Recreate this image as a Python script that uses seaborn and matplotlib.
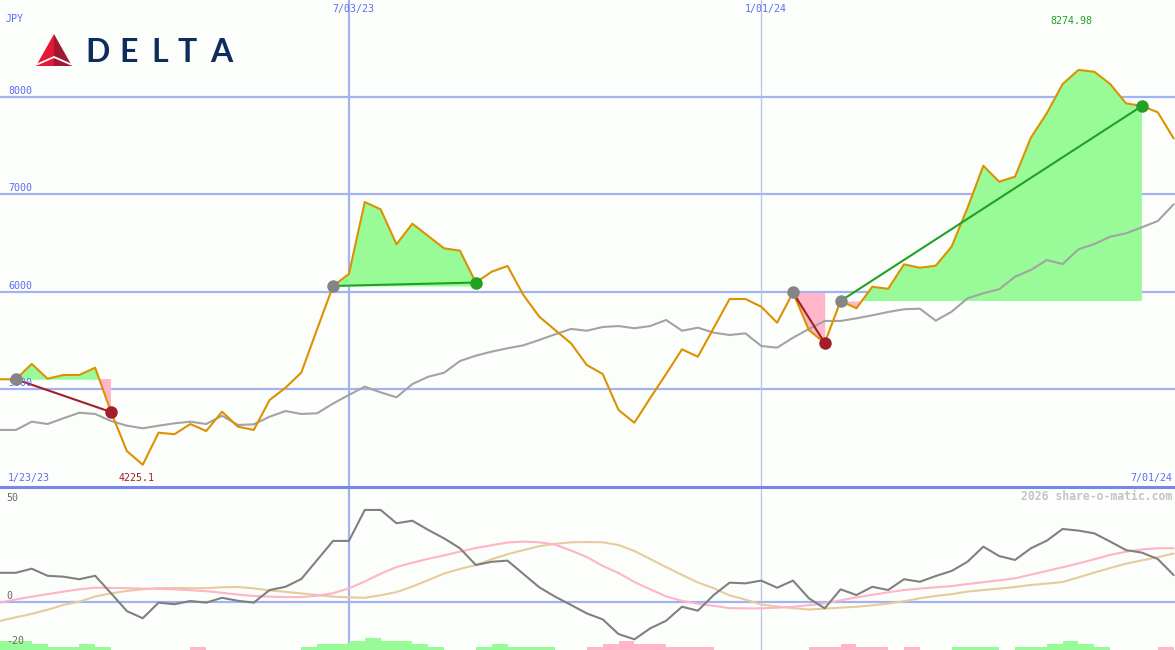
import numpy as np
import pandas as pd
import matplotlib
matplotlib.use("Agg")
import matplotlib.pyplot as plt
import matplotlib.transforms as mtrans
from matplotlib.patches import Polygon
import seaborn as sns

# ---------------- data ----------------
date_labels = ["1/23/23", "7/03/23", "1/01/24", "7/01/24"]
date_marks = [22, 48]          # weekly index of 7/03/23 and 1/01/24
price_grid = [5000, 6000, 7000, 8000]
osc_labels = [50, 0, -20]

price = [5102, 5102, 5259, 5108, 5146, 5146, 5221, 4766, 4366, 4225.1,
         4554, 4538, 4643, 4571, 4769, 4616, 4582, 4889, 5015, 5171,
         5618, 6059, 6182, 6920, 6845, 6486, 6698, 6571, 6445, 6421,
         6094, 6205, 6264, 5966, 5744, 5607, 5471, 5248, 5156, 4787,
         4656, 4910, 5156, 5409, 5333, 5628, 5925, 5925, 5846, 5682,
         5992, 5607, 5474, 5905, 5830, 6051, 6030, 6281, 6246, 6267,
         6462, 6859, 7292, 7128, 7180, 7580, 7830, 8130, 8274.98, 8256,
         8130, 7932, 7905, 7840, 7573]

avg = [4582, 4582, 4667, 4643, 4702, 4759, 4746, 4674, 4626, 4599,
       4626, 4650, 4667, 4643, 4728, 4633, 4640, 4718, 4776, 4746,
       4753, 4853, 4941, 5026, 4968, 4917, 5053, 5128, 5169, 5289,
       5344, 5385, 5420, 5450, 5505, 5563, 5618, 5600, 5638, 5648,
       5625, 5648, 5710, 5600, 5631, 5580, 5556, 5573, 5443, 5426,
       5528, 5618, 5700, 5700, 5727, 5758, 5792, 5820, 5826, 5703,
       5795, 5932, 5984, 6025, 6154, 6223, 6325, 6284, 6435, 6489,
       6564, 6599, 6661, 6725, 6896]

osc = [12.6, 12.6, 14.4, 11.3, 10.9, 9.8, 11.3, 3.7, -4.1, -7.2,
       -0.4, -1.1, 0.3, -0.4, 1.7, 0.4, -0.4, 5.1, 6.5, 9.9,
       18.2, 26.5, 26.5, 40.0, 40.0, 34.2, 35.3, 31.3, 27.6, 23.3,
       16.0, 17.4, 17.9, 12.1, 6.3, 2.2, -1.4, -5.1, -7.7, -14.1,
       -16.4, -11.6, -8.3, -2.2, -3.9, 2.9, 8.3, 8.0, 9.2, 6.1,
       9.2, 1.5, -2.9, 5.4, 2.9, 6.5, 5.1, 9.8, 8.7, 11.2,
       13.4, 17.4, 24.0, 19.9, 18.2, 23.3, 26.6, 31.7, 31.0, 29.8,
       26.2, 22.5, 21.4, 18.6, 11.6]

sig_fast = [-0.4, 1.0, 2.2, 3.3, 4.4, 5.4, 6.1, 6.0, 5.9, 5.7,
            5.6, 5.4, 5.0, 4.6, 3.9, 3.1, 2.5, 2.2, 2.0, 2.0,
            2.6, 3.7, 5.8, 8.8, 12.2, 15.1, 17.0, 18.7, 20.2, 21.8,
            23.4, 24.6, 25.8, 26.2, 25.9, 24.9, 22.3, 19.5, 15.6, 12.5,
            8.6, 5.4, 2.3, 0.4, -0.9, -1.8, -2.8, -2.9, -2.9, -2.6,
            -2.2, -1.5, -0.7, 0.6, 1.9, 3.0, 4.1, 5.1, 5.7, 6.3,
            6.8, 7.7, 8.5, 9.3, 10.2, 11.8, 13.4, 15.0, 16.7, 18.5,
            20.4, 21.8, 22.8, 23.3, 23.3]

sig_slow = [-8.4, -6.8, -5.3, -3.5, -1.4, 0.0, 2.3, 3.6, 4.7, 5.4,
            5.9, 6.0, 5.9, 5.9, 6.3, 6.4, 5.8, 4.9, 4.3, 3.6,
            2.9, 2.2, 1.9, 1.7, 2.8, 4.2, 6.6, 9.4, 12.3, 14.3,
            16.0, 18.5, 20.7, 22.5, 24.2, 25.2, 25.9, 26.0, 25.9, 24.7,
            22.1, 18.6, 15.1, 11.7, 8.4, 5.9, 2.8, 0.9, -1.2, -2.1,
            -2.8, -3.4, -3.0, -2.6, -2.2, -1.6, -0.8, 0.2, 1.5, 2.5,
            3.3, 4.4, 5.1, 5.7, 6.4, 7.3, 7.9, 8.6, 10.6, 12.7,
            14.7, 16.6, 18.0, 19.4, 21.0]

hist = [3, 3, 2, 1, 1, 2, 1, 0, 0, 0,
        0, 0, -1, 0, 0, 0, 0, 0, 0, 1,
        2, 2, 3, 4, 3, 3, 2, 1, 0, 0,
        1, 2, 1, 1, 1, 0, 0, -1, -2, -3,
        -2, -2, -1, -1, -1, 0, 0, 0, 0, 0,
        0, -1, -1, -2, -1, -1, 0, -1, 0, 0,
        1, 1, 1, 0, 1, 1, 2, 3, 2, 1,
        0, 0, 0, -1, 0]

trades = [(1, 7), (21, 30), (50, 52), (53, 72)]   # (buy index, sell index)

# ---------------- style ----------------
BG = "#fcfefc"
BLUE_TXT = "#5d6df0"
GRID = "#a4b2f2"
BORDER = "#7586ef"
ORANGE = "#dc9200"
GREY = "#a3a3a3"
GREEN_FILL = "#98fb98"
PINK_FILL = "#ffb6c8"
WIN = "#22a022"
LOSS = "#a31d2a"

sns.set_style("white")
plt.rcParams["font.family"] = ["DejaVu Sans Mono", "DejaVu Sans"]

W, H = 1175, 650
fig = plt.figure(figsize=(W / 100, H / 100), dpi=100, facecolor=BG)
split = 487
ax = fig.add_axes([0, (H - split) / H, 1, split / H])
ax2 = fig.add_axes([0, 0, 1, (H - split) / H])
px_per_idx = 15.86
xmax = W / px_per_idx

df = pd.DataFrame({"i": np.arange(len(price)), "price": price, "avg": avg,
                   "osc": osc, "fast": sig_fast, "slow": sig_slow, "hist": hist})

for a in (ax, ax2):
    a.set_facecolor(BG)
    a.set_xlim(0, xmax)
    a.set_xticks([]); a.set_yticks([])
    for s in a.spines.values():
        s.set_visible(False)

# ---------------- main panel ----------------
ax.set_ylim(3997, 8992)
for g in price_grid:
    ax.axhline(g, color=GRID, lw=1.6, zorder=1)
ax.axvline(date_marks[0], color=GRID, lw=1.6, zorder=1)
ax.axvline(date_marks[1], color="#b8c0e8", lw=0.9, zorder=1)

pr = np.array(price, dtype=float)
for b, s in trades:
    xs = np.arange(b, s + 1)
    lvl = pr[b]
    ys = pr[b:s + 1]
    ax.fill_between(xs, lvl, ys, where=ys >= lvl, interpolate=True,
                    color=GREEN_FILL, lw=0, zorder=2)
    ax.fill_between(xs, lvl, ys, where=ys <= lvl, interpolate=True,
                    color=PINK_FILL, lw=0, zorder=2)

sns.lineplot(data=df, x="i", y="avg", ax=ax, color=GREY, lw=1.5, zorder=3)
sns.lineplot(data=df, x="i", y="price", ax=ax, color=ORANGE, lw=1.5, zorder=4)

for b, s in trades:
    col = WIN if pr[s] >= pr[b] else LOSS
    ax.plot([b, s], [pr[b], pr[s]], color=col, lw=1.5, zorder=5)
    ax.plot([b], [pr[b]], "o", color="#858585", ms=9, mec="none", zorder=6)
    ax.plot([s], [pr[s]], "o", color=col, ms=9, mec="none", zorder=6)
ax.set_xlabel(""); ax.set_ylabel("")

bt = mtrans.blended_transform_factory(ax.transAxes, ax.transData)
for g in price_grid:
    ax.text(8 / W, g + 12, str(g), transform=bt, color=BLUE_TXT,
            fontsize=7.2, ha="left", va="bottom", zorder=5)

tt = mtrans.blended_transform_factory(ax.transData, ax.transAxes)
for lab, m in zip(date_labels[1:3], date_marks):
    ax.text(m + 0.3, 1 - 9 / split, lab, transform=tt, color=BLUE_TXT,
            fontsize=7.2, ha="center", va="center")
ax.text(6 / W, 1 - 19 / split, "JPY", transform=ax.transAxes, color=BLUE_TXT,
        fontsize=7.2, ha="left", va="center")
ax.text(8 / W, 1 - 478 / split, date_labels[0], transform=ax.transAxes,
        color=BLUE_TXT, fontsize=7.2, ha="left", va="center")
ax.text(1172 / W, 1 - 478 / split, date_labels[3], transform=ax.transAxes,
        color=BLUE_TXT, fontsize=7.2, ha="right", va="center")
imax = int(np.argmax(pr)); imin = int(np.argmin(pr))
ax.text(imax - 0.45, 1 - 21 / split, f"{pr[imax]:.2f}", transform=tt,
        color=WIN, fontsize=7.2, ha="center", va="center")
ax.text(imin - 0.4, 1 - 478 / split, f"{pr[imin]:.1f}", transform=tt,
        color=LOSS, fontsize=7.2, ha="center", va="center")

# ---------------- oscillator panel ----------------
lo = -21.05
ax2.set_ylim(lo, 50)
ax2.axhline(0, color=GRID, lw=1.6, zorder=1)
ax2.axvline(date_marks[0], color=GRID, lw=1.6, zorder=1)
ax2.axvline(date_marks[1], color="#b8c0e8", lw=0.9, zorder=1)

unit = 3 / 2.294
hv = np.array(hist)
for i, h in enumerate(hv):
    if h != 0:
        ax2.bar(i, abs(h) * unit, bottom=lo, width=1, align="edge",
                color=GREEN_FILL if h > 0 else PINK_FILL, lw=0, zorder=2)

sns.lineplot(data=df, x="i", y="slow", ax=ax2, color="#e6cc9c", lw=1.5, zorder=3)
sns.lineplot(data=df, x="i", y="fast", ax=ax2, color="#ffb4c8", lw=1.5, zorder=3)
sns.lineplot(data=df, x="i", y="osc", ax=ax2, color="#808080", lw=1.5, zorder=4)
ax2.set_xlabel(""); ax2.set_ylabel("")

bt2 = mtrans.blended_transform_factory(ax2.transAxes, ax2.transData)
ax2.text(6 / W, 50 - 2.5, str(osc_labels[0]), transform=bt2, color="#6a6a6a",
         fontsize=7.2, ha="left", va="top")
for v in osc_labels[1:]:
    ax2.text(6 / W, v + 0.5, str(v), transform=bt2, color="#6a6a6a",
             fontsize=7.2, ha="left", va="bottom")
ax2.text(1172 / W, 1 - 9 / (H - split), "2026 share-o-matic.com",
         transform=ax2.transAxes, color="#c4c4c4", fontsize=8.3,
         fontweight="bold", ha="right", va="center")

# ---------------- overlay: panel border and logo ----------------
lg = fig.add_axes([0, 0, 1, 1], zorder=10)
lg.set_xlim(0, W); lg.set_ylim(H, 0); lg.axis("off"); lg.patch.set_alpha(0)
lg.axhline(split, color=BORDER, lw=2.2)
lg.add_patch(Polygon([(54, 34), (36, 66), (54, 66)], closed=True,
                     color="#e31837", lw=0))
lg.add_patch(Polygon([(54, 34), (54, 66), (72, 66)], closed=True,
                     color="#9e1a32", lw=0))
lg.plot([37, 54, 71], [64.5, 57, 64.5], color="white", lw=1.3)
for ch, cx in zip("DELTA", [98, 129, 159.5, 187, 221.5]):
    lg.text(cx, 62, ch, color="#0e2c5c", fontsize=23, fontweight="bold",
            family="Lato", ha="center", va="baseline")

fig.savefig("out.png", dpi=100, facecolor=BG)
